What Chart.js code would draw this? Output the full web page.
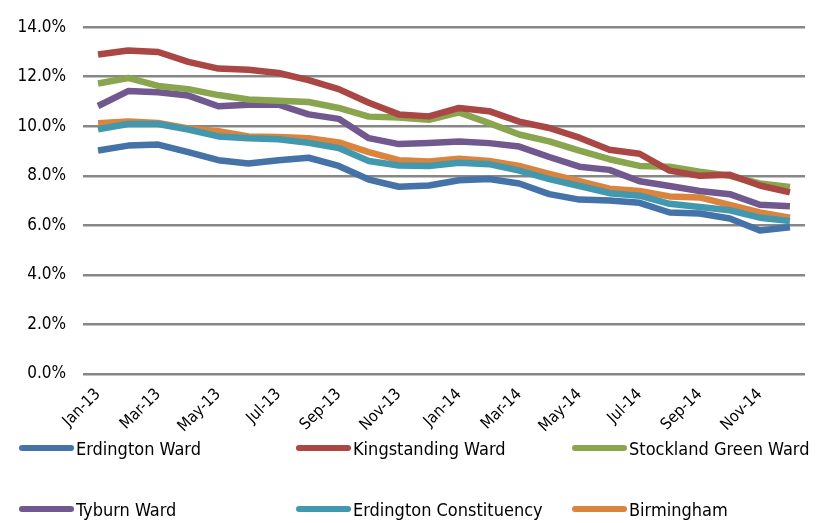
<!DOCTYPE html>
<html>
<head>
<meta charset="utf-8">
<script src="https://cdn.jsdelivr.net/npm/chart.js@4"></script>
<style>
    body { margin: 0; background: #fff; }
    #wrap { position: relative; width: 825px; height: 523px; }
    #legend { position: absolute; left: 0; top: 0; width: 825px; height: 523px; pointer-events: none;
        font-family: "DejaVu Sans Condensed", "DejaVu Sans", sans-serif; font-size: 18px; color: #000; }
    .item { position: absolute; display: flex; align-items: center; white-space: nowrap; }
    .swatch { width: 55px; height: 6px; border-radius: 3px; margin-right: 2px; }
</style>
</head>
<body>
<div id="wrap">
    <canvas id="chart" width="825" height="523"></canvas>
    <div id="legend"></div>
</div>
<script>
// Months Jan-13 .. Dec-14
const months = ['Jan-13', 'Feb-13', 'Mar-13', 'Apr-13', 'May-13', 'Jun-13', 'Jul-13', 'Aug-13', 'Sep-13', 'Oct-13', 'Nov-13', 'Dec-13',
    'Jan-14', 'Feb-14', 'Mar-14', 'Apr-14', 'May-14', 'Jun-14', 'Jul-14', 'Aug-14', 'Sep-14', 'Oct-14', 'Nov-14', 'Dec-14'];

const seriesNames = ['Erdington Ward', 'Kingstanding Ward', 'Stockland Green Ward', 'Tyburn Ward', 'Erdington Constituency', 'Birmingham'];
const seriesColors = ['#4572A7', '#AA4643', '#89A54E', '#71588F', '#4198AF', '#DB843D'];

// values in percent
const erdington = [9.02, 9.22, 9.26, 8.96, 8.63, 8.50, 8.63, 8.73, 8.40, 7.85, 7.56, 7.61,
    7.82, 7.87, 7.69, 7.26, 7.04, 7.00, 6.91, 6.52, 6.48, 6.28, 5.79, 5.92];
const kingstanding = [12.90, 13.06, 13.00, 12.60, 12.33, 12.28, 12.15, 11.86, 11.50, 10.95, 10.48, 10.40,
    10.74, 10.61, 10.19, 9.93, 9.54, 9.05, 8.89, 8.21, 8.00, 8.04, 7.61, 7.33];
const stocklandGreen = [11.73, 11.95, 11.63, 11.50, 11.26, 11.08, 11.03, 10.98, 10.74, 10.39, 10.35, 10.26,
    10.56, 10.13, 9.67, 9.39, 9.02, 8.67, 8.40, 8.37, 8.17, 8.00, 7.69, 7.55];
const tyburn = [10.82, 11.42, 11.37, 11.24, 10.81, 10.87, 10.87, 10.48, 10.30, 9.52, 9.28, 9.33,
    9.39, 9.32, 9.18, 8.76, 8.37, 8.24, 7.78, 7.59, 7.39, 7.26, 6.83, 6.77];
const constituency = [9.88, 10.09, 10.09, 9.87, 9.59, 9.52, 9.48, 9.33, 9.12, 8.60, 8.42, 8.40,
    8.53, 8.47, 8.21, 7.87, 7.59, 7.30, 7.20, 6.87, 6.74, 6.61, 6.31, 6.18];
const birmingham = [10.12, 10.19, 10.13, 9.91, 9.80, 9.59, 9.57, 9.52, 9.35, 8.96, 8.63, 8.58,
    8.69, 8.60, 8.40, 8.08, 7.78, 7.48, 7.39, 7.17, 7.13, 6.83, 6.52, 6.31];

const seriesValues = [erdington, kingstanding, stocklandGreen, tyburn, constituency, birmingham];

const fontFamily = '"DejaVu Sans Condensed", "DejaVu Sans", sans-serif';

function buildDatasets() {
    return seriesNames.map(function (name, i) {
        return {
            label: name,
            data: seriesValues[i],
            borderColor: seriesColors[i],
            backgroundColor: seriesColors[i],
            borderWidth: 6.5,
            pointRadius: 0,
            tension: 0,
            borderJoinStyle: 'round',
            borderCapStyle: 'butt'
        };
    });
}

function buildLegend() {
    //Legend in 3 columns, 2 rows
    let legend = document.getElementById('legend');
    let colX = [19, 296, 572];
    let rowY = [448, 509];
    seriesNames.forEach(function (name, i) {
        let item = document.createElement('div');
        item.className = 'item';
        item.style.left = colX[i % 3] + 'px';
        item.style.top = (rowY[Math.floor(i / 3)] - 11) + 'px';
        item.style.height = '22px';
        let sw = document.createElement('span');
        sw.className = 'swatch';
        sw.style.background = seriesColors[i];
        let txt = document.createElement('span');
        txt.textContent = name;
        item.appendChild(sw);
        item.appendChild(txt);
        legend.appendChild(item);
    });
}

let ctx = document.getElementById('chart');
new Chart(ctx, {
    type: 'line',
    data: {
        labels: months,
        datasets: buildDatasets()
    },
    options: {
        responsive: false,
        animation: false,
        layout: { padding: { top: 16, right: 20, bottom: 0, left: 0 } },
        plugins: {
            legend: { display: false },
            tooltip: { enabled: false }
        },
        scales: {
            x: {
                offset: true,
                grid: { display: false, drawTicks: false },
                border: { display: false },
                ticks: {
                    autoSkip: false,
                    maxRotation: 45,
                    minRotation: 45,
                    padding: 11,
                    color: '#000',
                    font: { family: fontFamily, size: 16 },
                    callback: function (value, index) {
                        return index % 2 === 0 ? months[index] : '';
                    }
                },
                afterFit: function (scale) { scale.height = 149; }
            },
            y: {
                min: 0,
                max: 14,
                grid: { color: '#878787', lineWidth: 2.5, drawTicks: false },
                border: { display: false },
                ticks: {
                    stepSize: 2,
                    padding: 17,
                    color: '#000',
                    font: { family: fontFamily, size: 17 },
                    callback: function (value) { return value.toFixed(1) + '%'; }
                },
                afterFit: function (scale) { scale.width = 83; }
            }
        }
    }
});

buildLegend();
</script>
</body>
</html>
